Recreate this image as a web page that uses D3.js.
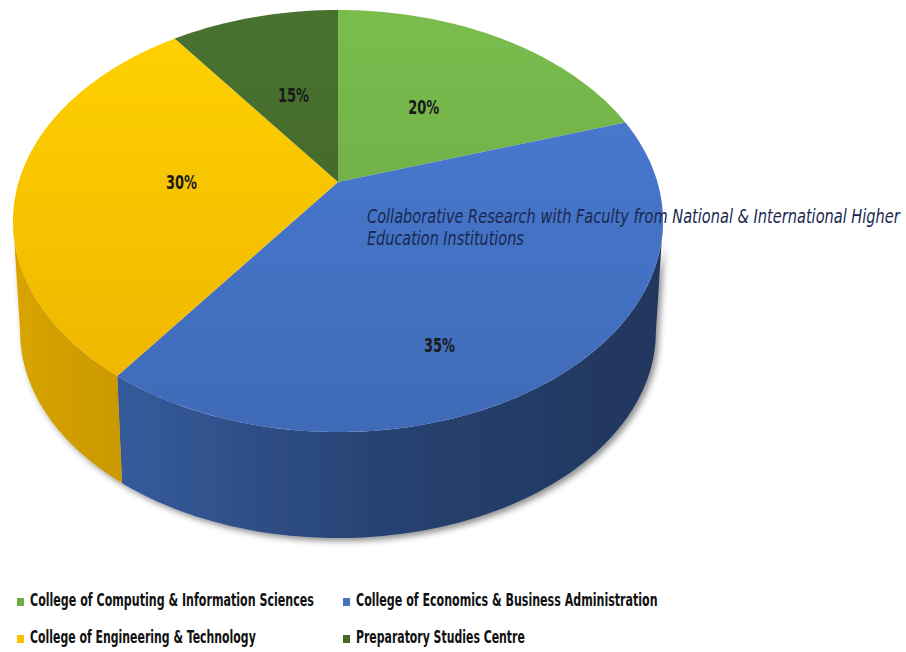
<!DOCTYPE html>
<html>
<head>
<meta charset="utf-8">
<script src="https://d3js.org/d3.v7.min.js"></script>
<style>
  body { margin: 0; background: #fff; }
  svg { display: block; }
  .pct { font-family: "Liberation Sans Narrow", "DejaVu Sans Condensed", Arial, sans-serif; font-weight: bold; font-size: 20px; fill: #1a1a1a; }
  .title { font-family: "Liberation Sans Narrow", "DejaVu Sans Condensed", Arial, sans-serif; font-style: italic; font-size: 20px; fill: #1a2850; }
  .legend { font-family: "Liberation Sans Narrow", "DejaVu Sans Condensed", Arial, sans-serif; font-weight: bold; font-size: 17px; fill: #111; }
</style>
</head>
<body>
<svg id="chart" width="906" height="652"></svg>
<script>
// legend names, in slice order (clockwise from 12 o'clock)
const categories = [
  "College of Computing & Information Sciences",
  "College of Economics & Business Administration",
  "College of Engineering & Technology",
  "Preparatory Studies Centre"
];
// slice sizes as they are drawn in the picture
const sliceValues = [20, 40, 30, 10];
// the labels printed on the slices (they don't match the drawn sizes in the source)
const sliceLabels = ["20%", "35%", "30%", "15%"];
const colors = ["#70ad47", "#4472c4", "#ffc000", "#43682b"];
const titleLines = [
  "Collaborative Research  with Faculty from National & International Higher",
  "Education Institutions"
];

const svg = d3.select("#chart");
const defs = svg.append("defs");

// perspective pie: centre, half axes, perspective factor, depth
const cx = 338, cy = 182;
const sx = 319.4, sy = 203.8, k = 0.185;
const depth = 111.5, shrink = 0.978;

function proj(a, r, bottom) {
  const u = r * Math.sin(a), v = -r * Math.cos(a);
  const w = 1 - k * v;
  const f = bottom ? shrink : 1;
  return [cx + f * sx * u / w, cy + (bottom ? depth : 0) + f * sy * v / w];
}

function arcPoints(a0, a1, bottom) {
  const n = Math.max(2, Math.ceil(Math.abs(a1 - a0) / (Math.PI / 180)));
  return d3.range(n + 1).map(i => proj(a0 + (a1 - a0) * i / n, 1, bottom));
}

// squeeze a text horizontally so it spans `width` px (the source font is narrow)
function fitText(sel, x, y, width) {
  const natural = sel.node().getComputedTextLength();
  sel.attr("transform", `translate(${x},${y}) scale(${width / natural},1)`);
}

const line = d3.line();

const pie = d3.pie().sort(null).startAngle(0).endAngle(2 * Math.PI);
const arcs = pie(sliceValues);

// visible part of the side wall (between the silhouette tangents)
const visA = Math.acos(-k), visB = 2 * Math.PI - Math.acos(-k);

// gradients
arcs.forEach((d, i) => {
  const c = d3.color(colors[i]);
  const g = defs.append("linearGradient").attr("id", "top" + i)
    .attr("gradientUnits", "userSpaceOnUse")
    .attr("x1", 0).attr("y1", 10).attr("x2", 0).attr("y2", 432);
  g.append("stop").attr("offset", 0).attr("stop-color", c.brighter(0.25));
  g.append("stop").attr("offset", 1).attr("stop-color", c.darker(0.2));
  const s = defs.append("linearGradient").attr("id", "side" + i)
    .attr("gradientUnits", "userSpaceOnUse")
    .attr("x1", 12).attr("y1", 0).attr("x2", 662).attr("y2", 0);
  s.append("stop").attr("offset", 0).attr("stop-color", c.darker(0.45));
  s.append("stop").attr("offset", 0.2).attr("stop-color", c.darker(0.7));
  s.append("stop").attr("offset", 0.55).attr("stop-color", c.darker(1.5));
  s.append("stop").attr("offset", 1).attr("stop-color", c.darker(2.1));
});

const filt = defs.append("filter").attr("id", "shadow")
  .attr("x", "-10%").attr("y", "-10%").attr("width", "130%").attr("height", "130%");
filt.append("feDropShadow").attr("dx", 3).attr("dy", 3)
  .attr("stdDeviation", 3).attr("flood-color", "#000").attr("flood-opacity", 0.45);

// side walls
const sides = svg.append("g").attr("filter", "url(#shadow)");
const wallRanges = [];
arcs.forEach((d, i) => {
  const b0 = Math.max(d.startAngle, visA), b1 = Math.min(d.endAngle, visB);
  if (b1 <= b0) { wallRanges.push(null); return; }
  wallRanges.push([b0, b1]);
  const pts = arcPoints(b0, b1, false).concat(arcPoints(b1, b0, true));
  sides.append("path").attr("d", line(pts) + "Z")
    .attr("fill", "url(#side" + i + ")");
});

// top faces
const tops = svg.append("g");
arcs.forEach((d, i) => {
  const pts = [[cx, cy]].concat(arcPoints(d.startAngle, d.endAngle, false));
  tops.append("path").attr("d", line(pts) + "Z")
    .attr("fill", "url(#top" + i + ")");
});

// percent labels
arcs.forEach((d, i) => {
  let p = proj((d.startAngle + d.endAngle) / 2, 0.49, false);
  const wall = wallRanges[i];
  if (wall && wall[1] - wall[0] > (d.endAngle - d.startAngle) / 2) {
    // mostly front facing slice: label sits lower, toward its wall
    p = proj((wall[0] + wall[1]) / 2, 0.75, false);
  }
  const txt = svg.append("text").attr("class", "pct")
    .attr("dy", "0.35em").attr("text-anchor", "middle").text(sliceLabels[i]);
  fitText(txt, p[0], p[1], 31);
});

// chart title sitting over the pie
const titleWidths = [533, 157];
titleLines.forEach((t, i) => {
  const txt = svg.append("text").attr("class", "title").text(t);
  fitText(txt, 367, 223 + i * 22, titleWidths[i]);
});

// legend, two columns
const legendWidths = [284, 302, 226, 169];
const legend = svg.append("g");
categories.forEach((name, i) => {
  const col = i % 2, row = Math.floor(i / 2);
  const x = col ? 343 : 17, y = row ? 643 : 606;
  legend.append("rect").attr("x", x).attr("y", y - 8).attr("width", 7).attr("height", 8)
    .attr("fill", colors[i]);
  const txt = legend.append("text").attr("class", "legend").text(name);
  fitText(txt, x + 13, y, legendWidths[i]);
});
</script>
</body>
</html>
